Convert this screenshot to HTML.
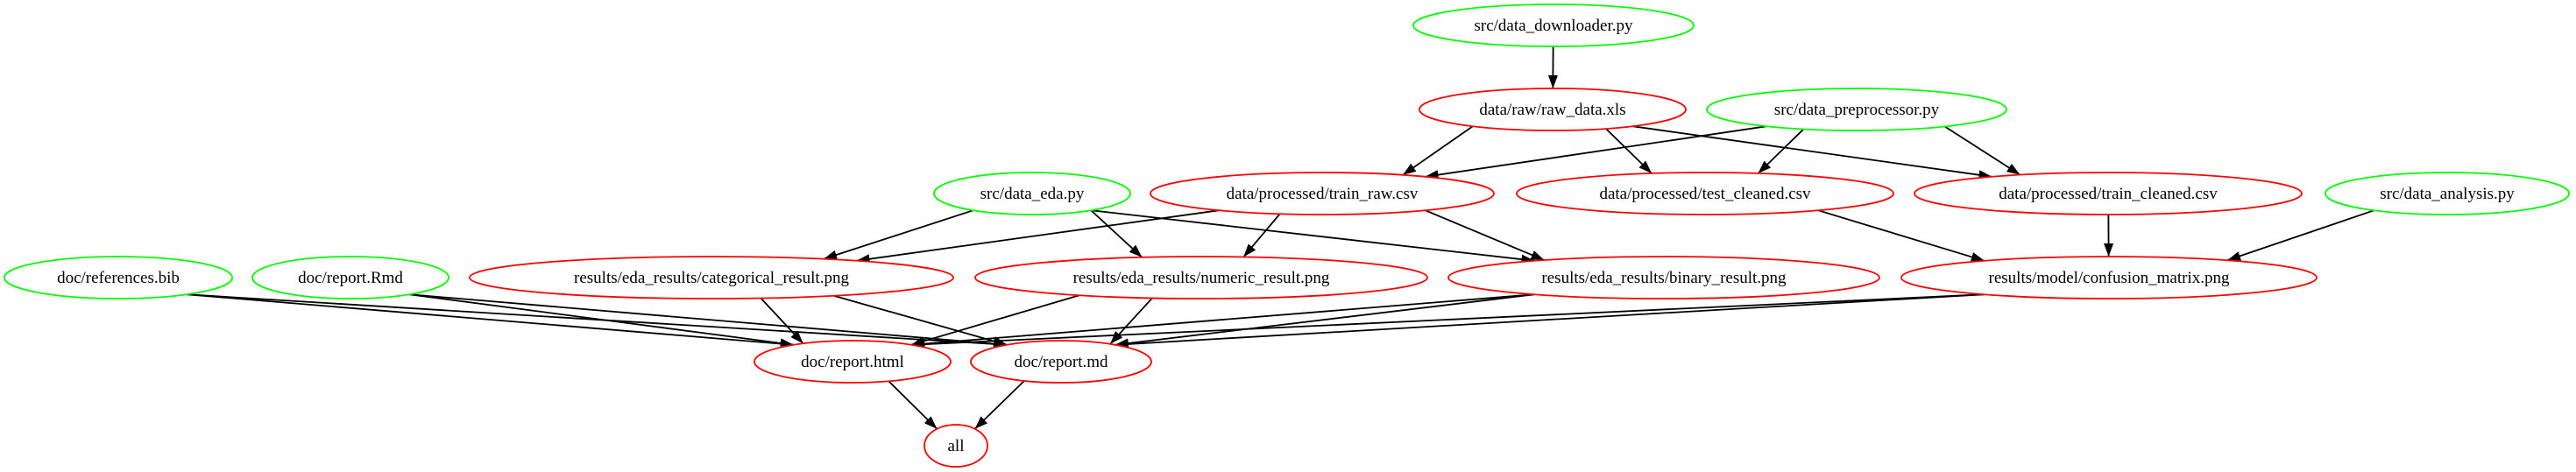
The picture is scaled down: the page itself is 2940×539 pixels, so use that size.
<!DOCTYPE html>
<html><head><meta charset="utf-8"><style>
html,body{margin:0;padding:0;background:#fff;width:2940px;height:539px;overflow:hidden}
svg{display:block}
text{font-family:"Liberation Serif",serif;font-size:19px;fill:#000}
</style></head><body>
<svg id="g" width="2940" height="539" xmlns="http://www.w3.org/2000/svg">
<defs><marker id="a" markerUnits="userSpaceOnUse" markerWidth="15" markerHeight="11" refX="15" refY="5.5" orient="auto"><path d="M0,0 L15,5.5 L0,11 z" fill="#000"/></marker></defs>
<g id="e" stroke="#000" stroke-width="1.8" fill="none"></g>
<g id="n"></g>
</svg>
<script>
var N={
dl:[1773,29,160,24,'src/data_downloader.py',1],
raw:[1772,125,152,24,'data/raw/raw_data.xls',0],
pre:[2119,125,171,24,'src/data_preprocessor.py',1],
eda:[1178,221,112,24,'src/data_eda.py',1],
tr:[1509,221,196,24,'data/processed/train_raw.csv',0],
te:[1946,221,215,24,'data/processed/test_cleaned.csv',0],
tc:[2406,221,221,24,'data/processed/train_cleaned.csv',0],
an:[2793,221,139,24,'src/data_analysis.py',1],
ref:[135,317,130,24,'doc/references.bib',1],
rmd:[400,317,112,24,'doc/report.Rmd',1],
cat:[812,317,276,24,'results/eda_results/categorical_result.png',0],
num:[1371,317,258,24,'results/eda_results/numeric_result.png',0],
bin:[1899,317,246,24,'results/eda_results/binary_result.png',0],
cm:[2407,317,237,24,'results/model/confusion_matrix.png',0],
html:[973,413,112,24,'doc/report.html',0],
md:[1211,413,103,24,'doc/report.md',0],
all:[1091,509,36,24,'all',0]};
var E=[['dl','raw'],['raw','tr'],['raw','te'],['raw','tc'],['pre','tr'],['pre','te'],['pre','tc'],
['eda','cat'],['eda','num'],['eda','bin'],['tr','cat'],['tr','num'],['tr','bin'],
['te','cm'],['tc','cm'],['an','cm'],['ref','html'],['ref','md'],['rmd','html'],['rmd','md'],
['cat','html'],['cat','md'],['num','html'],['num','md'],['bin','html'],['bin','md'],['cm','html'],['cm','md'],
['html','all'],['md','all']];
var ns='http://www.w3.org/2000/svg',eg=document.getElementById('e'),ng=document.getElementById('n');
E.forEach(function(p){var s=N[p[0]],t=N[p[1]];
 var dxc=t[0]-s[0];
 var sx=s[0]+Math.max(-s[2]*0.6,Math.min(s[2]*0.6,dxc*0.35));
 var tx=t[0]-Math.max(-t[2]*0.6,Math.min(t[2]*0.6,dxc*0.35));
 var ux=(sx-s[0])/s[2]; var sy=s[1]+s[3]*Math.sqrt(Math.max(0,1-ux*ux));
 var vx=(tx-t[0])/t[2]; var ty=t[1]-t[3]*Math.sqrt(Math.max(0,1-vx*vx));
 var l=document.createElementNS(ns,'line');
 l.setAttribute('x1',sx);l.setAttribute('y1',sy);l.setAttribute('x2',tx);l.setAttribute('y2',ty);
 l.setAttribute('marker-end','url(#a)');eg.appendChild(l);});
for(var k in N){var n=N[k];
 var e=document.createElementNS(ns,'ellipse');e.setAttribute('cx',n[0]);e.setAttribute('cy',n[1]);e.setAttribute('rx',n[2]);e.setAttribute('ry',n[3]);
 e.setAttribute('fill','#fff');e.setAttribute('stroke',n[5]?'#00ff00':'#ff0000');e.setAttribute('stroke-width','1.8');ng.appendChild(e);
 var t=document.createElementNS(ns,'text');t.setAttribute('x',n[0]);t.setAttribute('y',n[1]+6);t.setAttribute('text-anchor','middle');t.textContent=n[4];ng.appendChild(t);}
</script>
</body></html>
